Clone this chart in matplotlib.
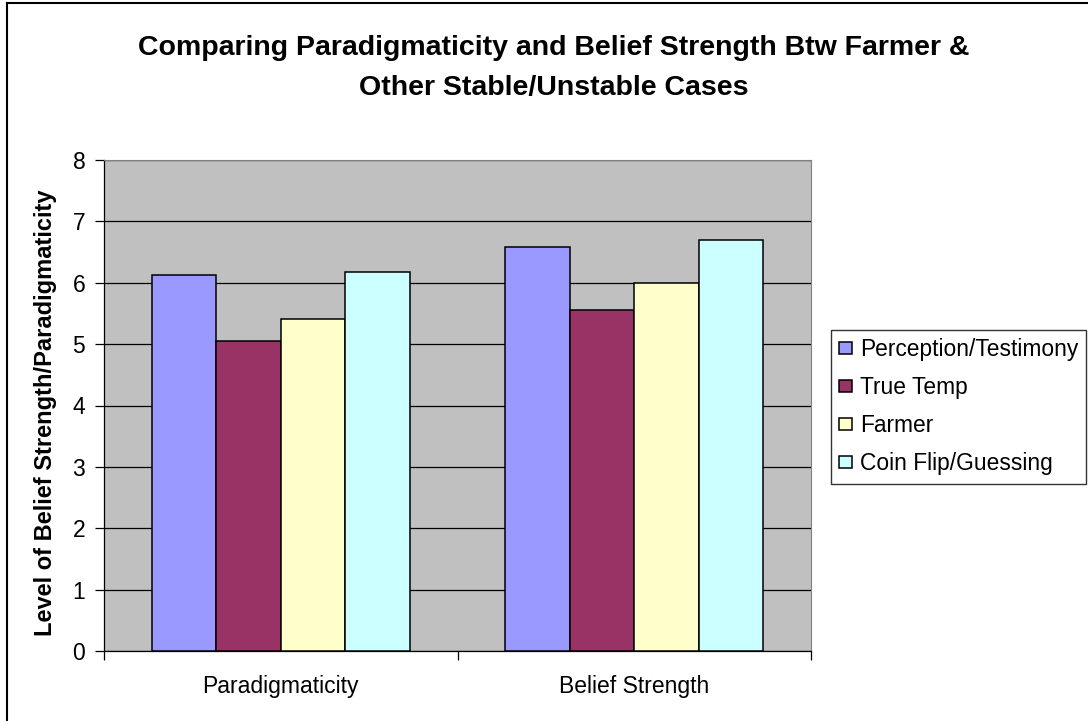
import matplotlib
matplotlib.use("Agg")
import matplotlib.pyplot as plt
import numpy as np
from matplotlib.lines import Line2D

plt.rcParams['font.family'] = ['Liberation Sans', 'DejaVu Sans']

categories = ["Paradigmaticity", "Belief Strength"]
series_names = ["Perception/Testimony", "True Temp", "Farmer", "Coin Flip/Guessing"]
perception = [6.12, 6.58]
true_temp = [5.05, 5.56]
farmer = [5.41, 5.99]
coin_flip = [6.17, 6.70]
colors = ["#9999FF", "#993366", "#FFFFCC", "#CCFFFF"]
yticks = [0, 1, 2, 3, 4, 5, 6, 7, 8]

W, H = 1088, 721
fig = plt.figure(figsize=(W/100, H/100), dpi=100)

def fx(px):
    return px / W

def fy(py):
    return 1 - py / H

# outer chart frame (extends beyond right and bottom edges)
fig.add_artist(Line2D([fx(7), fx(7)], [fy(3), fy(721)], transform=fig.transFigure,
                      color='black', linewidth=1.5))
fig.add_artist(Line2D([fx(7), fx(1088)], [fy(3), fy(3)], transform=fig.transFigure,
                      color='black', linewidth=1.5))

ax = fig.add_axes([fx(104), fy(651), (811-104)/W, (651-160)/H])
ax.set_facecolor("#C0C0C0")

x = np.arange(len(categories))
bw = 0.1825
data = [perception, true_temp, farmer, coin_flip]
for i, (vals, c, name) in enumerate(zip(data, colors, series_names)):
    ax.bar(x + (i - 1.5) * bw, vals, width=bw, color=c, edgecolor='black',
           linewidth=1.1, label=name, zorder=3)

ax.set_xlim(-0.5, 1.5)
ax.set_ylim(0, 8)
ax.set_yticks(yticks)
ax.set_yticklabels([str(t) for t in yticks], fontsize=16.5)
ax.yaxis.grid(True, color='black', linewidth=0.9, zorder=0)
ax.set_axisbelow(True)
ax.set_xticks([-0.5, 0.5, 1.5])
ax.set_xticklabels(["", "", ""])
ax.tick_params(axis='x', which='major', length=6.5, direction='out', color='black', width=0.9)
ax.set_xticks(x, minor=True)
ax.set_xticklabels(categories, minor=True, fontsize=16.5)
ax.tick_params(axis='x', which='minor', length=0, pad=17)
ax.tick_params(axis='y', length=6.5, direction='out', color='black', width=0.9, pad=7)
for s in ['top', 'right']:
    ax.spines[s].set_color('#808080')
for s in ['left', 'bottom']:
    ax.spines[s].set_color('black')
    ax.spines[s].set_linewidth(0.9)

fig.text(fx(46), fy(413), "Level of Belief Strength/Paradigmaticity", rotation=90,
         ha='center', va='center', fontsize=17, fontweight='bold')

fig.text(fx(554), fy(55), "Comparing Paradigmaticity and Belief Strength Btw Farmer &",
         ha='center', va='baseline', fontsize=20.5, fontweight='bold')
fig.text(fx(554), fy(95), "Other Stable/Unstable Cases",
         ha='center', va='baseline', fontsize=20.5, fontweight='bold')

leg = fig.legend(loc='upper left', bbox_to_anchor=(fx(831), fy(330)), fontsize=16.4,
                 frameon=True, fancybox=False, edgecolor='black', handlelength=0.55,
                 handleheight=0.45, handletextpad=0.36, labelspacing=0.66, borderpad=0.36,
                 borderaxespad=0)
leg.get_frame().set_linewidth(1.0)

fig.savefig("out.png", dpi=100)
